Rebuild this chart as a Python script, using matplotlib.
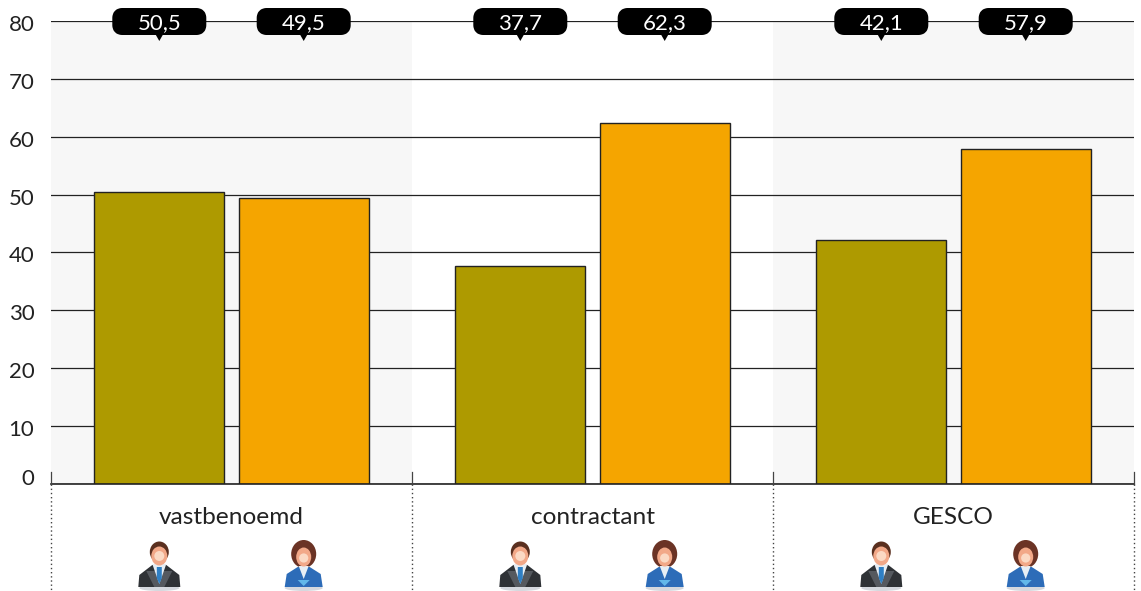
"""Gender split per contract type, bars with callouts and small person icons."""

import matplotlib
matplotlib.use("Agg")
import matplotlib.pyplot as plt
from matplotlib.patches import Circle, Ellipse, FancyBboxPatch, Polygon
from matplotlib.transforms import ScaledTranslation

CATEGORIES = ["vastbenoemd", "contractant", "GESCO"]
MEN = [50.5, 37.7, 42.1]
WOMEN = [49.5, 62.3, 57.9]
MEN_LABELS = ["50,5", "37,7", "42,1"]
WOMEN_LABELS = ["49,5", "62,3", "57,9"]
Y_TICKS = [0, 10, 20, 30, 40, 50, 60, 70, 80]

W, H = 1141, 591
LEFT, RIGHT, TOP, BOTTOM = 51, 1134, 21, 484
GROUP_W = (RIGHT - LEFT) / 3
OFFSET, BAR_W = 0.2, 0.36
OLIVE, ORANGE, EDGE = "#ae9a00", "#f5a500", "#222222"

plt.rcParams["font.family"] = ["Lato", "DejaVu Sans"]
TEXT = "#222222"


def to_px(x):
    return LEFT + (x + 0.5) * GROUP_W


def callout(ov, cx, label):
    ov.add_patch(FancyBboxPatch((cx - 42, 13), 84, 17, boxstyle="round,pad=0,rounding_size=5",
                                mutation_aspect=1, fc="black", ec="black", lw=7.2, zorder=5,
                                joinstyle="round"))
    ov.add_patch(Polygon([(cx - 4, 34), (cx + 4, 34), (cx, 41)], fc="black", ec="none", zorder=5))
    ov.text(cx, 23, label, color="white", fontsize=16, ha="center", va="center", zorder=6)


def man(ov, cx):
    base = 587
    ov.add_patch(Ellipse((cx, base + 1), 40, 6, fc="#d5d8de", ec="none", zorder=3))
    ov.add_patch(Polygon([(cx - 21, base), (cx - 20, base - 12), (cx - 7, base - 22), (cx + 7, base - 22),
                          (cx + 20, base - 12), (cx + 21, base)], fc="#2f3236", ec="none", zorder=4))
    ov.add_patch(Polygon([(cx - 13, base - 16), (cx + 13, base - 16), (cx + 5, base), (cx - 5, base)],
                         fc="#55595f", ec="none", zorder=4))
    ov.add_patch(Polygon([(cx - 7, base - 23), (cx + 7, base - 23), (cx, base - 3)], fc="#e8eef4", ec="none", zorder=5))
    ov.add_patch(Polygon([(cx - 2.5, base - 20), (cx + 2.5, base - 20), (cx + 2.5, base - 9), (cx, base - 3),
                          (cx - 2.5, base - 9)], fc="#2f7fc4", ec="none", zorder=6))
    ov.add_patch(Ellipse((cx, base - 35), 19, 21, fc="#5a2f1f", ec="none", zorder=4))
    ov.add_patch(Ellipse((cx, base - 31), 16, 19, fc="#f2a888", ec="none", zorder=5))
    ov.add_patch(Circle((cx, base - 31), 5, fc="#fbd9c4", ec="none", zorder=6))


def woman(ov, cx):
    base = 587
    ov.add_patch(Ellipse((cx, base + 1), 38, 6, fc="#d5d8de", ec="none", zorder=3))
    ov.add_patch(Ellipse((cx, base - 33), 25, 28, fc="#6b3325", ec="none", zorder=4))
    ov.add_patch(Polygon([(cx - 19, base), (cx - 17, base - 13), (cx - 6, base - 20), (cx + 6, base - 20),
                          (cx + 17, base - 13), (cx + 19, base)], fc="#2d6cb8", ec="none", zorder=5))
    ov.add_patch(Polygon([(cx - 5, base - 21), (cx + 5, base - 21), (cx, base - 8)], fc="#e8eef4", ec="none", zorder=6))
    ov.add_patch(Polygon([(cx - 6, base - 7), (cx + 6, base - 7), (cx, base - 1)], fc="#62b8ea", ec="none", zorder=6))
    ov.add_patch(Ellipse((cx, base - 30), 15, 19, fc="#f2a888", ec="none", zorder=6))
    ov.add_patch(Circle((cx, base - 29), 4.6, fc="#fbd9c4", ec="none", zorder=7))


def main():
    fig = plt.figure(figsize=(W / 100, H / 100), dpi=100)
    ax = fig.add_axes([LEFT / W, (H - BOTTOM) / H, (RIGHT - LEFT) / W, (BOTTOM - TOP) / H])
    xs = list(range(len(CATEGORIES)))

    ax.axvspan(-0.5, 0.5, color="#f7f7f7", lw=0, zorder=0)
    ax.axvspan(1.5, 2.5, color="#f7f7f7", lw=0, zorder=0)
    ax.yaxis.grid(True, color="#222222", lw=0.9, zorder=1)
    ax.set_axisbelow(True)
    ax.bar([x - OFFSET for x in xs], MEN, BAR_W, color=OLIVE, edgecolor=EDGE, lw=1, zorder=2)
    ax.bar([x + OFFSET for x in xs], WOMEN, BAR_W, color=ORANGE, edgecolor=EDGE, lw=1, zorder=2)

    ax.set_xlim(-0.5, 2.5)
    ax.set_ylim(0, 80)
    ax.set_xticks([])
    ax.set_yticks(Y_TICKS)
    ax.tick_params(axis="y", length=0, pad=12, labelsize=16, labelcolor=TEXT)
    # labels sit a little under their gridline, the 0 is lifted off the baseline
    for t, lab in zip(Y_TICKS, ax.get_yticklabels()):
        dy = 7 if t == 0 else -2
        lab.set_transform(lab.get_transform() + ScaledTranslation(0, dy / 100, fig.dpi_scale_trans))
    for s in ("top", "right", "left"):
        ax.spines[s].set_visible(False)
    ax.spines["bottom"].set_color("#222222")
    ax.spines["bottom"].set_linewidth(1.2)

    ov = fig.add_axes([0, 0, 1, 1], zorder=5)
    ov.set_xlim(0, W)
    ov.set_ylim(H, 0)
    ov.axis("off")
    for i in range(len(CATEGORIES) + 1):
        sx = LEFT + i * GROUP_W
        ov.plot([sx, sx], [472, BOTTOM], color="#444444", lw=0.9, zorder=2)
        ov.plot([sx, sx], [BOTTOM, H], color="#444444", lw=1, ls=(0, (1, 2)), zorder=2)
    for i, name in enumerate(CATEGORIES):
        ov.text(to_px(i), 517, name, fontsize=17.6, color=TEXT, ha="center", va="center")
        callout(ov, to_px(i - OFFSET), MEN_LABELS[i])
        callout(ov, to_px(i + OFFSET), WOMEN_LABELS[i])
        man(ov, to_px(i - OFFSET))
        woman(ov, to_px(i + OFFSET))

    fig.savefig("out.png", dpi=100)


if __name__ == "__main__":
    main()
